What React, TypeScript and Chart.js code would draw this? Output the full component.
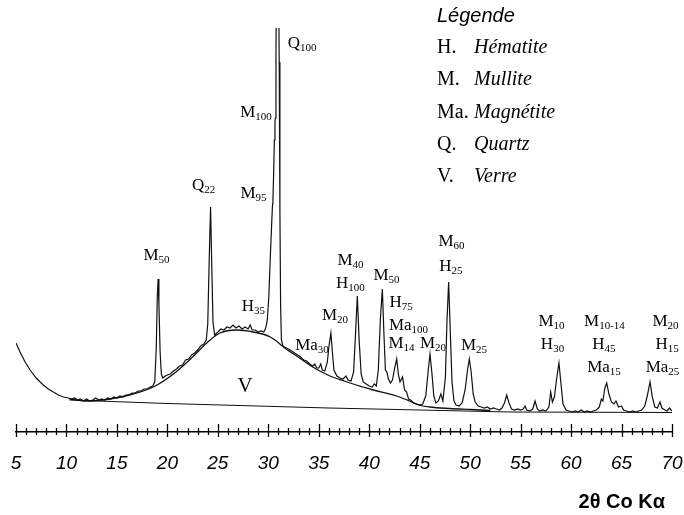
import React, { useEffect, useRef } from 'react';
import { Chart, registerables } from 'chart.js';

Chart.register(...registerables);

// Measured diffraction pattern (2θ in degrees, intensity in arbitrary units)
const twoTheta = [
  5.0, 5.4, 5.9, 6.4, 7.0, 7.4, 7.7, 8.2, 8.7, 9.2, 9.7, 10.2, 10.5, 10.8, 11.1, 11.4, 11.7, 12.0, 12.3, 12.6,
  12.9, 13.2, 13.5, 13.8, 14.1, 14.4, 14.7, 15.0, 15.3, 15.6, 15.9, 16.2, 16.5, 16.8, 17.1, 17.4, 17.7, 18.0, 18.3, 18.55,
  18.75, 18.9, 19.0, 19.08, 19.16, 19.28, 19.4, 19.55, 19.8, 20.0, 20.3, 20.6, 20.9, 21.2, 21.5, 21.8, 22.1, 22.4, 22.7, 23.0,
  23.3, 23.6, 23.85, 24.0, 24.15, 24.28, 24.4, 24.52, 24.68, 25.0, 25.3, 25.6, 25.9, 26.2, 26.5, 26.8, 27.1, 27.4, 27.7, 28.0,
  28.2, 28.4, 28.7, 29.0, 29.3, 29.55, 29.75, 29.9, 30.05, 30.2, 30.35, 30.42, 30.46, 30.52, 30.6, 30.66, 30.7, 30.76, 30.82, 30.92,
  31.0, 31.08, 31.15, 31.22, 31.3, 31.45, 31.6, 31.8, 32.0, 32.3, 32.6, 32.9, 33.2, 33.5, 33.8, 34.1, 34.4, 34.6, 34.8, 35.0,
  35.2, 35.35, 35.6, 35.85, 36.0, 36.2, 36.35, 36.5, 36.8, 37.1, 37.4, 37.7, 37.9, 38.2, 38.45, 38.65, 38.82, 39.0, 39.2, 39.4,
  39.7, 40.0, 40.3, 40.5, 40.7, 40.9, 41.1, 41.3, 41.45, 41.6, 41.75, 41.9, 42.1, 42.3, 42.5, 42.72, 42.9, 43.05, 43.3, 43.5,
  43.7, 43.9, 44.1, 44.4, 44.7, 45.0, 45.3, 45.6, 45.85, 46.02, 46.2, 46.4, 46.6, 46.85, 47.1, 47.3, 47.55, 47.7, 47.87, 48.0,
  48.2, 48.4, 48.6, 48.9, 49.2, 49.5, 49.75, 49.92, 50.1, 50.3, 50.5, 50.8, 51.1, 51.4, 51.7, 52.0, 52.3, 52.6, 52.9, 53.15,
  53.4, 53.62, 53.85, 54.1, 54.4, 54.7, 55.0, 55.25, 55.44, 55.6, 55.9, 56.2, 56.43, 56.65, 56.9, 57.2, 57.5, 57.8, 57.98, 58.15,
  58.35, 58.55, 58.8, 59.0, 59.2, 59.5, 59.8, 60.1, 60.4, 60.7, 61.0, 61.3, 61.6, 61.9, 62.2, 62.5, 62.8, 63.0, 63.15, 63.35,
  63.53, 63.75, 64.0, 64.25, 64.45, 64.7, 65.0, 65.2, 65.5, 65.8, 66.1, 66.4, 66.7, 67.0, 67.3, 67.55, 67.82, 68.05, 68.3, 68.55,
  68.81, 69.0, 69.3, 69.5, 69.74, 69.9, 70.0,
];
const counts = [
  89, 80, 70, 62, 54, 50, 47, 43, 40, 37, 35, 34, 33, 34, 32, 33, 31, 33, 31, 32,
  34, 32, 33, 32, 34, 33, 35, 34, 36, 35, 37, 37, 39, 39, 41, 41, 43, 43, 45, 46,
  50, 85, 135, 153, 128, 80, 58, 54, 56, 57, 58, 61, 63, 66, 67, 72, 73, 77, 79, 82,
  86, 88, 92, 108, 175, 225, 165, 110, 97, 100, 103, 102, 105, 104, 107, 104, 106, 103, 105, 103,
  107, 102, 102, 100, 101, 100, 104, 112, 135, 175, 212, 228, 232, 255, 292, 310, 314, 380, 470, 560,
  480, 370, 220, 125, 92, 86, 85, 84, 83, 81, 79, 77, 75, 72, 71, 68, 66, 68, 64, 64,
  68, 62, 61, 70, 85, 99, 80, 62, 56, 54, 53, 56, 52, 51, 60, 100, 136, 92, 58, 50,
  48, 46, 45, 48, 46, 62, 112, 143, 100, 62, 60, 53, 49, 52, 63, 73, 57, 50, 55, 42,
  40, 33, 32, 29, 28, 27, 28, 36, 62, 78, 60, 36, 29, 31, 38, 31, 55, 110, 150, 110,
  50, 31, 27, 26, 29, 42, 63, 73, 60, 38, 30, 26, 25, 24, 25, 23, 24, 23, 22, 24,
  29, 37, 29, 23, 22, 23, 22, 23, 26, 22, 21, 23, 31, 23, 21, 22, 21, 25, 40, 30,
  35, 52, 69, 48, 28, 22, 21, 20, 21, 20, 22, 20, 21, 20, 21, 22, 25, 33, 31, 44,
  49, 38, 30, 28, 31, 25, 26, 22, 21, 20, 21, 20, 21, 22, 26, 36, 50, 35, 25, 24,
  30, 24, 22, 21, 24, 22, 21,
];

// Amorphous glass hump (V)
const glassTwoTheta = [10.3, 12.0, 14.3, 16.6, 18.6, 20.6, 22.5, 23.9, 25.2, 26.9, 28.5, 30.2, 31.9, 33.1, 34.4, 36.1, 37.5, 39.4, 40.4, 42.7, 44.0, 44.9, 46.0, 48.0, 50.0, 52.0];
const glassCounts = [33, 31, 33, 38, 45, 58, 75, 89, 99, 102, 100, 95, 82, 74, 65, 56, 51, 45, 42, 36, 31, 27, 25, 23.5, 22.5, 21.5];

// Straight background line
const baseTwoTheta = [10.3, 20.0, 36.0, 54.0, 70.0];
const baseCounts = [32, 28.5, 24, 20, 19.5];

const xTickLabels = [5, 10, 15, 20, 25, 30, 35, 40, 45, 50, 55, 60, 65, 70];
const rulerTicks = [
  5, 6, 7, 8, 9, 10, 11, 12, 13, 14, 15, 16, 17, 18, 19, 20, 21, 22, 23, 24, 25, 26, 27, 28, 29, 30, 31, 32, 33, 34, 35,
  36, 37, 38, 39, 40, 41, 42, 43, 44, 45, 46, 47, 48, 49, 50, 51, 52, 53, 54, 55, 56, 57, 58, 59, 60, 61, 62, 63, 64, 65,
  66, 67, 68, 69, 70,
];

// Peak annotations: phase, relative intensity, anchor (2θ, intensity)
const peakNames = ['M', 'Q', 'M', 'M', 'Q', 'H', 'Ma', 'M', 'M', 'H', 'M', 'H', 'Ma', 'M', 'M', 'M', 'H', 'M', 'M', 'H', 'M', 'H', 'Ma', 'M', 'H', 'Ma'];
const peakSubs = ['50', '22', '95', '100', '100', '35', '30', '20', '40', '100', '50', '75', '100', '14', '20', '60', '25', '25', '10', '30', '10-14', '45', '15', '20', '15', '25'];
const peakAt2T = [18.92, 23.58, 28.53, 28.78, 33.34, 28.53, 34.33, 36.61, 38.14, 38.14, 41.71, 43.15, 43.89, 43.2, 46.32, 48.15, 48.1, 50.38, 58.06, 58.16, 63.31, 63.26, 63.26, 69.36, 69.51, 69.06];
const peakAtI = [172, 242, 234, 315, 384, 121, 82, 112, 167, 144, 152, 125, 102, 84, 84, 186, 161, 82, 106, 83, 106, 83, 60, 106, 83, 60];

const legendTitle = 'Légende';
const legendAbbr = ['H.', 'M.', 'Ma.', 'Q.', 'V.'];
const legendNames = ['Hématite', 'Mullite', 'Magnétite', 'Quartz', 'Verre'];
const axisTitle = '2θ Co Kα';

const overlayPlugin = {
  id: 'overlay',
  afterDraw(chart: any) {
    const { ctx, chartArea } = chart;
    const xs = chart.scales.x;
    const ys = chart.scales.y;
    ctx.save();
    // ruler ticks
    ctx.strokeStyle = '#000';
    ctx.lineWidth = 1.3;
    const yb = chartArea.bottom;
    rulerTicks.forEach((v) => {
      const px = Math.round(xs.getPixelForValue(v)) + 0.5;
      const major = v % 5 === 0;
      ctx.beginPath();
      ctx.moveTo(px, yb - (major ? 8 : 4));
      ctx.lineTo(px, yb + (major ? 5 : 3));
      ctx.stroke();
    });

    // peak labels
    ctx.fillStyle = '#000';
    ctx.textBaseline = 'alphabetic';
    ctx.textAlign = 'left';
    const mainFont = '17px "Liberation Serif"';
    const subFont = '11px "Liberation Serif"';
    peakNames.forEach((name, i) => {
      const cx = xs.getPixelForValue(peakAt2T[i]);
      const by = ys.getPixelForValue(peakAtI[i]);
      ctx.font = mainFont;
      const w1 = ctx.measureText(name).width;
      ctx.font = subFont;
      const w2 = ctx.measureText(peakSubs[i]).width;
      const x0 = cx - (w1 + w2) / 2;
      ctx.font = mainFont;
      ctx.fillText(name, x0, by);
      ctx.font = subFont;
      ctx.fillText(peakSubs[i], x0 + w1, by + 3);
    });

    // V label
    ctx.font = '21px "Liberation Serif"';
    ctx.textAlign = 'center';
    ctx.fillText('V', xs.getPixelForValue(27.69), ys.getPixelForValue(40));

    // legend
    ctx.textAlign = 'left';
    const lx = chartArea.left + 421;
    ctx.font = 'italic 20px "Liberation Sans"';
    ctx.fillText(legendTitle, lx, 22);
    legendAbbr.forEach((a, i) => {
      const by = 53 + i * 32.3;
      ctx.font = '20px "Liberation Serif"';
      ctx.fillText(a, lx, by);
      const wa = ctx.measureText(a).width;
      ctx.font = 'italic 20px "Liberation Serif"';
      const nx = Math.max(lx + 37, lx + wa + 2);
      ctx.fillText(legendNames[i], nx, by);
    });

    // axis title
    ctx.font = 'bold 20px "Liberation Sans"';
    ctx.textAlign = 'right';
    ctx.fillText(axisTitle, chartArea.right - 7, 508);
    ctx.restore();
  },
};

export default function App() {
  const ref = useRef<HTMLCanvasElement | null>(null);
  useEffect(() => {
    if (!ref.current) return;
    const measured = twoTheta.map((t, i) => ({ x: t, y: counts[i] }));
    const glass = glassTwoTheta.map((t, i) => ({ x: t, y: glassCounts[i] }));
    const base = baseTwoTheta.map((t, i) => ({ x: t, y: baseCounts[i] }));
    const chart = new Chart(ref.current, {
      type: 'line',
      data: {
        datasets: [
          { data: measured, borderColor: '#111', borderWidth: 1.2, pointRadius: 0, tension: 0, fill: false },
          { data: glass, borderColor: '#111', borderWidth: 1.3, pointRadius: 0, cubicInterpolationMode: 'monotone', fill: false },
          { data: base, borderColor: '#111', borderWidth: 1.1, pointRadius: 0, tension: 0, fill: false },
        ],
      },
      options: {
        responsive: false,
        animation: false,
        devicePixelRatio: 1,
        layout: { padding: { left: 16, right: 12, top: 28, bottom: 0 } },
        plugins: { legend: { display: false }, tooltip: { enabled: false } },
        scales: {
          x: {
            type: 'linear',
            min: 5,
            max: 70,
            afterFit: (s: any) => {
              s.height = 83;
              s.paddingLeft = 0;
              s.paddingRight = 0;
            },
            afterBuildTicks: (s: any) => {
              s.ticks = xTickLabels.map((v) => ({ value: v }));
            },
            grid: { display: false, drawTicks: true, tickLength: 20 },
            border: { display: true, color: '#000', width: 1.5 },
            ticks: {
              padding: 0,
              color: '#000',
              maxRotation: 0,
              minRotation: 0,
              autoSkip: false,
              font: { family: 'Liberation Sans', style: 'italic', size: 19 },
            },
          },
          y: { display: false, min: 0, max: 404 },
        },
      },
      plugins: [overlayPlugin],
    } as any);
    return () => chart.destroy();
  }, []);
  return (
    <div style={{ position: 'absolute', left: 0, top: 0, width: 684, height: 515, background: '#fff' }}>
      <canvas ref={ref} width={684} height={515} style={{ display: 'block' }} />
    </div>
  );
}
